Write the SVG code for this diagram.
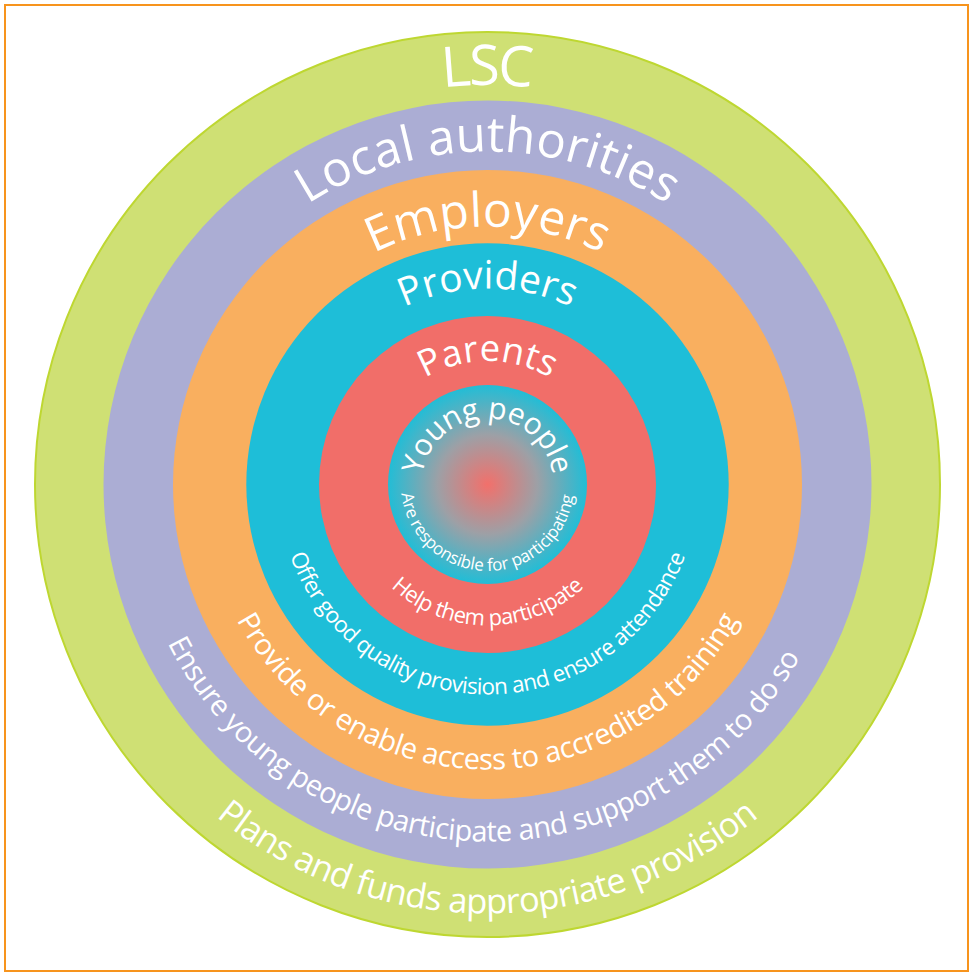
<svg xmlns="http://www.w3.org/2000/svg" xmlns:xlink="http://www.w3.org/1999/xlink" width="971" height="974" viewBox="0 0 971 974">
<style>
  .lbl { fill: #ffffff; font-family: "Open Sans", "Noto Sans", "Liberation Sans", sans-serif; }
</style>
<defs>
  <radialGradient id="gYoung" cx="487.5" cy="484.5" r="99.5" gradientUnits="userSpaceOnUse">
    <stop offset="0" stop-color="#f2706b"/>
    <stop offset="0.5" stop-color="#9da0a6"/>
    <stop offset="1" stop-color="#22bdd6"/>
  </radialGradient>
  <path id="pLSC" d="M 88 484.5 A 399.5 399.5 0 0 1 887 484.5"/>
  <path id="pLA" d="M 154.5 484.5 A 333 333 0 0 1 820.5 484.5"/>
  <path id="pEmp" d="M 229.5 484.5 A 258 258 0 0 1 745.5 484.5"/>
  <path id="pProv" d="M 291.5 484.5 A 196 196 0 0 1 683.5 484.5"/>
  <path id="pPar" d="M 364 484.5 A 123.5 123.5 0 0 1 611 484.5"/>
  <path id="pYP" d="M 421.5 484.5 A 66 66 0 0 1 553.5 484.5"/>
  <path id="pAre" d="M 401 484.5 A 86.5 86.5 0 0 0 574 484.5"/>
  <path id="pHelp" d="M 346.5 484.5 A 141 141 0 0 0 628.5 484.5"/>
  <path id="pOffer" d="M 277.5 484.5 A 210 210 0 0 0 697.5 484.5"/>
  <path id="pProvide" d="M 202.5 484.5 A 285 285 0 0 0 772.5 484.5"/>
  <path id="pEnsure" d="M 130.5 484.5 A 357 357 0 0 0 844.5 484.5"/>
  <path id="pPlans" d="M 58.5 484.5 A 429 429 0 0 0 916.5 484.5"/>
</defs>

<rect x="5" y="5" width="963" height="966" fill="#ffffff" stroke="#f7941d" stroke-width="2"/>

<g id="lsc">
  <circle cx="487.5" cy="484.5" r="452.5" fill="#cfe074" stroke="#bed731" stroke-width="2"/>
  <text class="lbl" font-size="56"><textPath xlink:href="#pLSC" startOffset="50%" text-anchor="middle" textLength="90">LSC</textPath></text>
  <text class="lbl" font-size="34.5"><textPath xlink:href="#pPlans" startOffset="50%" text-anchor="middle" textLength="588">Plans and funds appropriate provision</textPath></text>
</g>

<g id="local-authorities">
  <circle cx="487.5" cy="484.5" r="384" fill="#abadd4"/>
  <text class="lbl" font-size="49"><textPath xlink:href="#pLA" startOffset="50%" text-anchor="middle" textLength="380">Local authorities</textPath></text>
  <text class="lbl" font-size="29"><textPath xlink:href="#pEnsure" startOffset="49.3%" text-anchor="middle" textLength="777">Ensure young people participate and support them to do so</textPath></text>
</g>

<g id="employers">
  <circle cx="487.5" cy="484.5" r="314.5" fill="#f9af5f"/>
  <text class="lbl" font-size="48"><textPath xlink:href="#pEmp" startOffset="50%" text-anchor="middle" textLength="236">Employers</textPath></text>
  <text class="lbl" font-size="29"><textPath xlink:href="#pProvide" startOffset="50%" text-anchor="middle" textLength="613">Provide or enable access to accredited training</textPath></text>
</g>

<g id="providers">
  <circle cx="487.5" cy="484.5" r="241.2" fill="#1ebed8"/>
  <text class="lbl" font-size="39"><textPath xlink:href="#pProv" startOffset="50%" text-anchor="middle" textLength="172">Providers</textPath></text>
  <text class="lbl" font-size="22.5"><textPath xlink:href="#pOffer" startOffset="50%" text-anchor="middle" textLength="515">Offer good quality provision and ensure attendance</textPath></text>
</g>

<g id="parents">
  <circle cx="487.5" cy="484.5" r="168.5" fill="#f16e69"/>
  <text class="lbl" font-size="36.5"><textPath xlink:href="#pPar" startOffset="50%" text-anchor="middle" textLength="131">Parents</textPath></text>
  <text class="lbl" font-size="22"><textPath xlink:href="#pHelp" startOffset="50%" text-anchor="middle" textLength="213">Help them participate</textPath></text>
</g>

<g id="young-people">
  <circle cx="487.5" cy="484.5" r="99.5" fill="url(#gYoung)"/>
  <text class="lbl" font-size="30"><textPath xlink:href="#pYP" startOffset="50%" text-anchor="middle" textLength="188">Young people</textPath></text>
  <text class="lbl" font-size="17"><textPath xlink:href="#pAre" startOffset="49.6%" text-anchor="middle" textLength="251">Are responsible for participating</textPath></text>
</g>

<g id="connectors"></g>
</svg>
